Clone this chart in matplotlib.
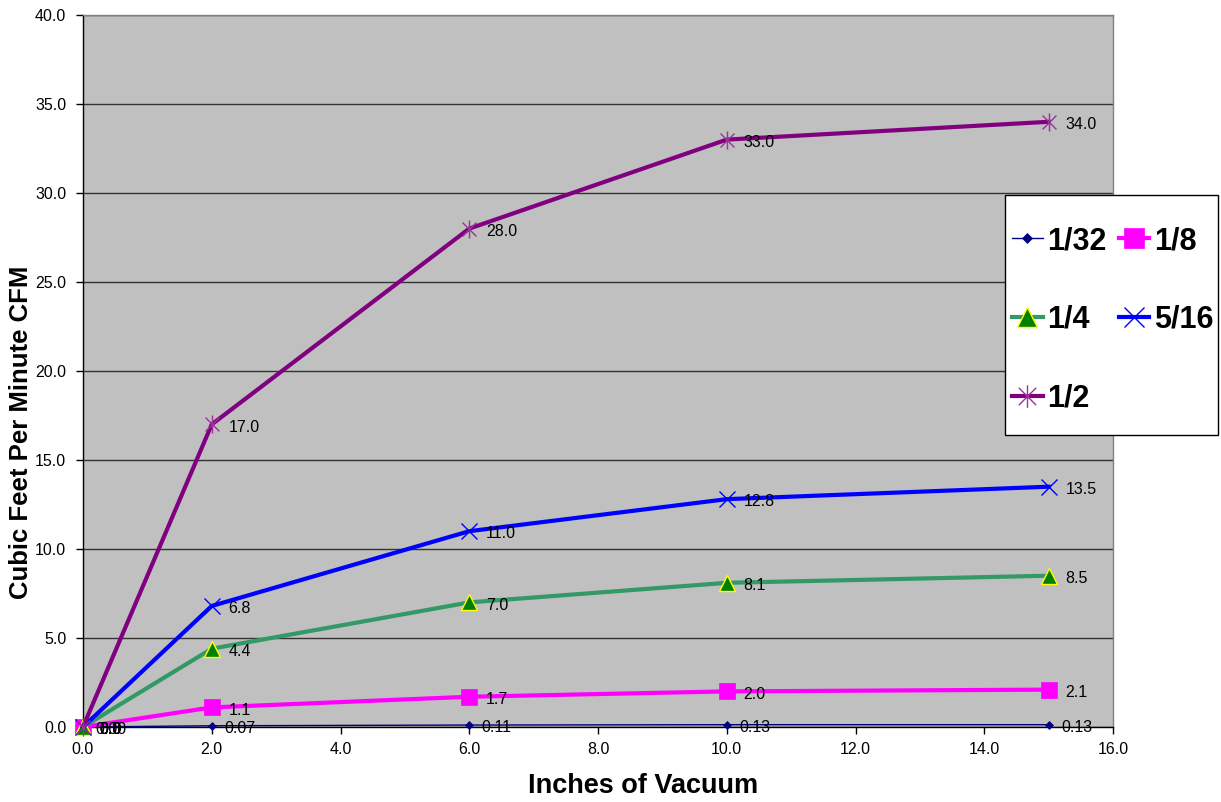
import matplotlib
matplotlib.use("Agg")
import matplotlib.pyplot as plt
from matplotlib.path import Path
from matplotlib.patches import Rectangle
from matplotlib.ticker import MultipleLocator, FormatStrFormatter

plt.rcParams['font.family'] = ['Liberation Sans', 'DejaVu Sans']

# ---- data ----
vacuum = [0.0, 2.0, 6.0, 10.0, 15.0]
series_names = ["1/32", "1/8", "1/4", "5/16", "1/2"]
cfm_1_32 = [0.0, 0.07, 0.11, 0.13, 0.13]
cfm_1_8 = [0.0, 1.1, 1.7, 2.0, 2.1]
cfm_1_4 = [0.0, 4.4, 7.0, 8.1, 8.5]
cfm_5_16 = [0.0, 6.8, 11.0, 12.8, 13.5]
cfm_1_2 = [0.0, 17.0, 28.0, 33.0, 34.0]
label_formats = ["{:.2f}", "{:.1f}", "{:.1f}", "{:.1f}", "{:.1f}"]

star = Path([(-1, -1), (1, 1), (-1, 1), (1, -1), (0, -1.3), (0, 1.3)],
            [Path.MOVETO, Path.LINETO] * 3)

styles = [
    dict(color='#000080', lw=1.0, marker='D', ms=4, mfc='#000080', mec='#000080', mew=0.5),
    dict(color='#FF00FF', lw=3.0, marker='s', ms=12, mfc='#FF00FF', mec='#FF00FF', mew=0.5),
    dict(color='#339966', lw=3.0, marker='^', ms=12, mfc='#008000', mec='#FFFF00', mew=1.0),
    dict(color='#0000FF', lw=3.0, marker='x', ms=11, mfc='#0000FF', mec='#0000FF', mew=1.0),
    dict(color='#800080', lw=3.0, marker=star, ms=13, mfc='#800080', mec='#993399', mew=1.0),
]
label_dx = [9, 12, 12, 12, 12]

all_series = [cfm_1_32, cfm_1_8, cfm_1_4, cfm_5_16, cfm_1_2]

W, H = 1221, 802
fig = plt.figure(figsize=(W / 100, H / 100), dpi=100)
ax = fig.add_axes([83 / W, 1 - 727 / H, (1113 - 83) / W, (727 - 15) / H])
ax.set_facecolor('#C0C0C0')

handles = []
for name, vals, st, fmt, dx in zip(series_names, all_series, styles, label_formats, label_dx):
    h, = ax.plot(vacuum, vals, label=name, clip_on=False, zorder=3, **st)
    handles.append(h)
    for xv, yv in zip(vacuum, vals):
        ax.annotate(fmt.format(yv), (xv, yv), xytext=(dx, -2), textcoords='offset points',
                    ha='left', va='center', fontsize=11.5, color='black', zorder=5,
                    annotation_clip=False)

ax.set_xlim(0, 16)
ax.set_ylim(0, 40)
ax.xaxis.set_major_locator(MultipleLocator(2))
ax.yaxis.set_major_locator(MultipleLocator(5))
ax.xaxis.set_major_formatter(FormatStrFormatter('%.1f'))
ax.yaxis.set_major_formatter(FormatStrFormatter('%.1f'))
ax.tick_params(axis='both', direction='out', length=5, width=1, labelsize=11.5, colors='black')
ax.tick_params(axis='x', pad=6)
ax.tick_params(axis='y', pad=7)
ax.yaxis.grid(True, color='#333333', lw=1)
ax.set_axisbelow(True)

for side in ['left', 'bottom']:
    ax.spines[side].set_color('black')
    ax.spines[side].set_linewidth(1)
for side in ['top', 'right']:
    ax.spines[side].set_color('#808080')
    ax.spines[side].set_linewidth(1)

fig.text(643 / W, 1 - 786 / H, "Inches of Vacuum", fontsize=19.5, fontweight='bold',
         ha='center', va='center')
fig.text(21 / W, 1 - 432 / H, "Cubic Feet Per Minute CFM", fontsize=18.5, fontweight='bold',
         ha='center', va='center', rotation=90)

# legend frame
fig.patches.append(Rectangle((1005 / W, 1 - 435 / H), (1218 - 1005) / W, (435 - 195) / H,
                             transform=fig.transFigure, facecolor='white',
                             edgecolor='#000000', lw=1, zorder=9))
order = [0, 2, 4, 1, 3]  # row-wise fill for two columns
leg = fig.legend(handles=[handles[i] for i in order], labels=[series_names[i] for i in order],
                 ncol=2, loc='center left', bbox_to_anchor=(1012 / W, 1 - 320 / H),
                 bbox_transform=fig.transFigure,
                 prop=dict(family='Liberation Sans', weight='bold', size=22),
                 frameon=False, borderaxespad=0, borderpad=0,
                 handlelength=1.0, handletextpad=0.15, columnspacing=0.4,
                 labelspacing=1.6, markerscale=1.25)
leg.set_zorder(10)

fig.savefig("out.png", dpi=100)
